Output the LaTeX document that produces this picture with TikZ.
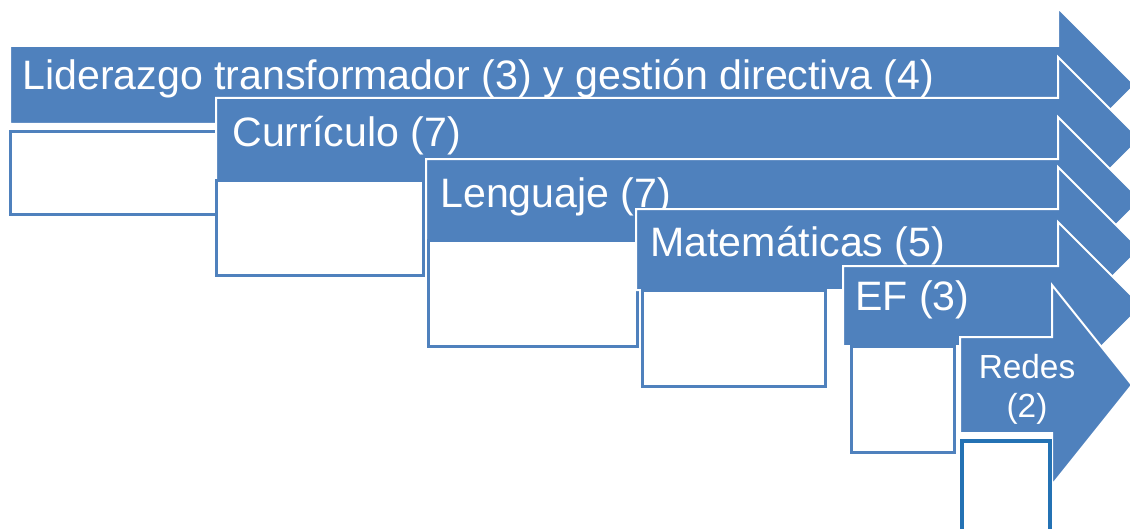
\documentclass[tikz,border=0pt]{standalone}
\usepackage{fontspec}
\setmainfont{Liberation Sans}
\usetikzlibrary{positioning}
\definecolor{step colour}{HTML}{4F81BD}
\definecolor{frame colour}{HTML}{2472B4}
\tikzset{
    % Fills and outlines for the stepped arrows
    step fill/.style={fill=step colour},
    step arrow/.style={step fill, draw=white, line width=0.4mm, line join=miter},
%
    % The empty boxes that hang below each step
    step box/.style={draw=step colour, fill=white, line width=0.6mm},
    last box/.style={draw=frame colour, fill=white, line width=0.7mm},
%
    % Labels sit at the top left of each arrow
    step label/.style={
        anchor=base west, text=white, inner sep=0,
        font=\fontsize{23.4}{28}\selectfont},
    small label/.style={
        anchor=base, text=white, inner sep=0, align=center,
        font=\fontsize{19}{22.1}\selectfont},
}

\begin{document}
\begin{tikzpicture}[x=0.2mm, y=-0.2mm]

\clip (0,0) rectangle (1130,529);

\draw [step arrow] (10,46) -| (1058,8) -- (1135,85) -- (1058,162) |- (10,124) -- cycle;
\node [step label] (lead) at (22,90) {Liderazgo transformador (3) y gestión directiva (4)};
\draw [step box] (10,132) rectangle (216,214);

\draw [step arrow] (216,98) -| (1058,57) -- (1140,139) -- (1058,221) |- (216,180) -- cycle;
\node [step label] (curr) at (232,147) {Currículo (7)};
\draw [step box] (216,180) rectangle (423,275);

\draw [step arrow] (426,159) -| (1058,117) -- (1141,200) -- (1058,283) |- (426,240) -- cycle;
\node [step label] (lang) at (440,207) {Lenguaje (7)};
\draw [step box] (428,240) rectangle (637,346);

\draw [step arrow] (636,209) -| (1058,167) -- (1140,249) -- (1058,331) |- (636,290) -- cycle;
\node [step label] (math) at (650,256) {Matemáticas (5)};
\draw [step box] (642,290) rectangle (825,386);

\draw [step arrow] (843,266) -| (1058,222) -- (1142,306) -- (1058,390) |- (843,346) -- cycle;
\node [step label] (ef) at (855,310) {EF (3)};
\draw [step box] (851,346) rectangle (954,452);

\draw [step arrow] (960,337) -| (1052,285) -- (1132,385) -- (1052,485) |- (960,433) -- cycle;
\node [small label] (nets) at (1027,417) {Redes\\(2)};
\draw [last box] (962,441) rectangle (1050,545);

\end{tikzpicture}
\end{document}
